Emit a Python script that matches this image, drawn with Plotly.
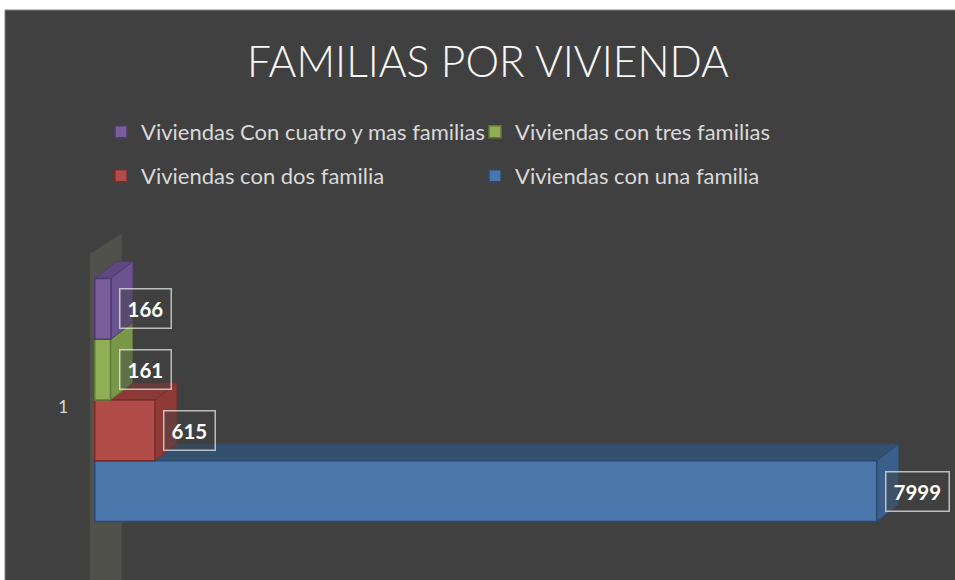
"""Familias por vivienda — Excel-style 3D clustered horizontal bar chart."""
import plotly.graph_objects as go

# ── Data ────────────────────────────────────────────────────────────
CATEGORY = "1"
SERIES = [
    "Viviendas con una familia",
    "Viviendas con dos familia",
    "Viviendas con tres familias",
    "Viviendas Con cuatro y mas familias",
]
VALUES = [7999, 615, 161, 166]

TITLE = "FAMILIAS POR VIVIENDA"

# ── Styles ──────────────────────────────────────────────────────────
BG = "#404040"
FONT = "Lato"
FRONT = ["#4a76ab", "#b24c48", "#8fae55", "#7a5d9b"]
TOP = ["#33506f", "#8a3a37", "#6e8a40", "#5e4880"]
SIDE = ["#3b5f8a", "#8e3b38", "#789848", "#6b5390"]
EDGE = ["#2c4a70", "#7a2e2b", "#5e7a33", "#4e3b6e"]
LEGENDS = ["legend2", "legend2", "legend", "legend"]

BAR_W = 0.25          # each series takes a quarter of the category band
DX, DY = 225, 0.07    # 3D depth offset in data units
X_RANGE = [-100, 8800]
Y_RANGE = [-0.74, 0.74]

W, H = 955, 580
M_L, M_R, M_T, M_B = 85, 0, 220, 0
PW, PH = W - M_L - M_R, H - M_T - M_B


def px_x(px):
    """Page x in pixels -> paper x."""
    return (px - M_L) / PW


def px_y(px):
    """Page y in pixels -> paper y."""
    return (H - M_B - px) / PH


fig = go.Figure()
shapes = []

# outer dark chart area
shapes.append(dict(
    type="rect", xref="paper", yref="paper", layer="below",
    x0=px_x(5), x1=px_x(W + 5), y0=px_y(H + 5), y1=px_y(10),
    fillcolor=BG, line=dict(color="#7f7f7f", width=1),
))

# back wall of the category axis
y_lo = Y_RANGE[0]
y_top = 0.6
shapes.append(dict(
    type="path", xref="x", yref="y", layer="below",
    path=(f"M{-50},{y_lo} L{-50},{y_top} L{DX + 50},{y_top + DY + 0.015} "
          f"L{DX + 50},{y_lo} Z"),
    fillcolor="rgba(150,150,120,0.2)", line=dict(width=0),
))

for i, (name, val) in enumerate(zip(SERIES, VALUES)):
    y0 = -0.5 + i * BAR_W
    y1 = y0 + BAR_W

    # top face
    shapes.append(dict(
        type="path", xref="x", yref="y", layer="below",
        path=(f"M0,{y1} L{val},{y1} L{val + DX},{y1 + DY} "
              f"L{DX},{y1 + DY} Z"),
        fillcolor=TOP[i], line=dict(color=EDGE[i], width=1),
    ))
    # side face
    shapes.append(dict(
        type="path", xref="x", yref="y", layer="below",
        path=(f"M{val},{y0} L{val + DX},{y0 + DY} L{val + DX},{y1 + DY} "
              f"L{val},{y1} Z"),
        fillcolor=SIDE[i], line=dict(color=EDGE[i], width=1),
    ))

    # front face
    fig.add_trace(go.Bar(
        x=[val], y=[0], orientation="h",
        width=BAR_W, offset=-0.5 + i * BAR_W,
        name=name, legend=LEGENDS[i],
        marker=dict(color=FRONT[i], line=dict(color=EDGE[i], width=1.5)),
        hovertemplate=f"{name}: %{{x}}<extra></extra>",
    ))

    fig.add_annotation(
        x=val, y=(y0 + y1) / 2, xref="x", yref="y",
        text=f"<b>{val}</b>", showarrow=False,
        xanchor="left", yanchor="middle", xshift=8,
        font=dict(family=FONT, size=20.5, color="#ffffff"),
        bgcolor="rgba(64,64,64,0.45)",
        bordercolor="rgba(255,255,255,0.65)", borderwidth=1.5, borderpad=7,
    )

legend_style = dict(
    orientation="h", xanchor="left", yanchor="middle",
    x=px_x(101), entrywidth=329, bgcolor="rgba(0,0,0,0)",
    font=dict(family=FONT, size=22, color="#d9d9d9"),
    traceorder="reversed", itemclick=False,
)

fig.update_layout(
    width=W, height=H,
    margin=dict(l=M_L, r=M_R, t=M_T, b=M_B),
    paper_bgcolor="#ffffff", plot_bgcolor="rgba(0,0,0,0)",
    barmode="overlay",
    shapes=shapes,
    title=dict(
        text=TITLE, x=488 / W, xanchor="center",
        y=1 - 62 / H, yanchor="middle",
        font=dict(family=FONT, size=42.5, weight=300, color="#f7f7f7"),
    ),
    legend=dict(legend_style, y=px_y(132)),
    legend2=dict(legend_style, y=px_y(176)),
    xaxis=dict(range=X_RANGE, visible=False, fixedrange=True),
    yaxis=dict(
        range=Y_RANGE, tickvals=[-0.03], ticktext=[CATEGORY],
        showgrid=False, zeroline=False, showline=False,
        ticks="", ticklabelstandoff=16,
        tickfont=dict(family=FONT, size=17, color="#d9d9d9"),
        fixedrange=True,
    ),
    font=dict(family=FONT),
)

# drop the default page margin so the figure sits at the window corner
fig.write_html(
    "out.html",
    config={"displayModeBar": False},
    post_script="document.body.style.margin='0';"
                "document.body.style.overflow='hidden';",
)
